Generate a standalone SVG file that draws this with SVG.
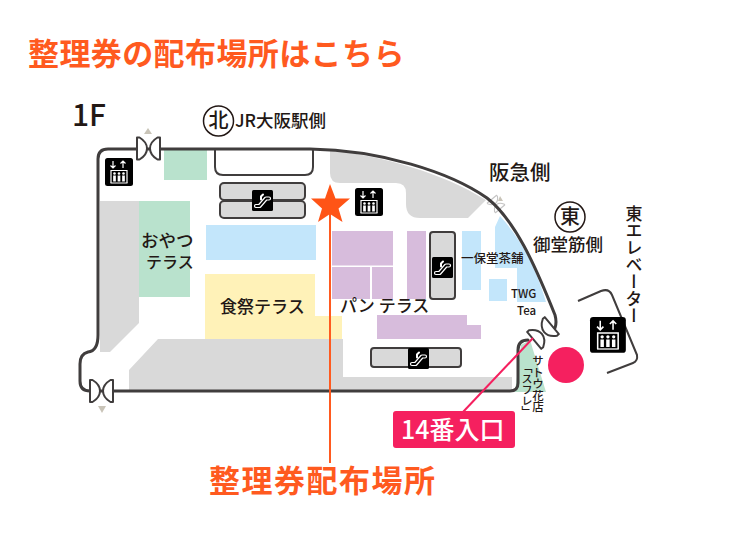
<svg xmlns="http://www.w3.org/2000/svg" width="729" height="536" viewBox="0 0 729 536">
<style>
text{font-family:"Noto Sans CJK JP","Noto Sans",sans-serif;fill:#231815;font-weight:500}
.or{fill:#ff5a1f;font-weight:700}
.wall{fill:none;stroke:#403d3d;stroke-width:3;stroke-linecap:round;stroke-linejoin:round}
.thin{fill:none;stroke:#403d3d;stroke-width:2;stroke-linejoin:round}
.door{fill:#fff;stroke:#403d3d;stroke-width:2;stroke-linejoin:round}
.grey{fill:#d9d9d9}.green{fill:#b9e2cd}.blue{fill:#c3e6fb}.yellow{fill:#fff2b8}.purple{fill:#d7bcdc}
.esc{fill:#d9d9d9;stroke:#403d3d;stroke-width:2}
.v{writing-mode:vertical-rl}
</style>
<defs>
<g id="elev">
<rect x="0" y="0" width="28" height="28" rx="2.5" fill="#000"/>
<path d="M8 3v7M5.500 7.500 8 10l2.500-2.500M18 10V3M15.500 5.500 18 3l2.500 2.500" fill="none" stroke="#fff" stroke-width="1.200"/>
<path d="M6 25V12.500H22V25" fill="none" stroke="#fff" stroke-width="1.200"/>
<path d="M5.500 25H22.500" stroke="#fff" stroke-width="1"/>
<g fill="#fff"><circle cx="9.500" cy="15.500" r="1.300"/><circle cx="14" cy="15.500" r="1.300"/><circle cx="18.500" cy="15.500" r="1.300"/></g>
<path d="M9.500 17.500v6M14 17.500v6M18.500 17.500v6" stroke="#fff" stroke-width="2.700"/>
</g>
<g id="escal">
<rect width="21" height="21" rx="1.500" fill="#000"/>
<path d="M4 16H7.500L14 8.500H17" fill="none" stroke="#fff" stroke-width="4.200" stroke-linecap="round" stroke-linejoin="round"/>
<path d="M4 16H7.500L14 8.500H17" fill="none" stroke="#000" stroke-width="1.800" stroke-linecap="round" stroke-linejoin="round"/>
<path d="M9 9.500V6.500L11 4.500" fill="none" stroke="#fff" stroke-width="2" stroke-linecap="round"/>
</g>
<g id="bow">
<path class="door" d="M-11.500-11H-9C1-5 1 5-9 11H-11.500Z"/>
<path class="door" d="M11.500-11H9C-1-5-1 5 9 11H11.500Z"/>
</g>
</defs>

<g id="title"><text class="or" x="28" y="65" font-size="31" letter-spacing=".4">整理券の配布場所はこちら</text></g>

<g id="areas">
<path class="grey" d="M100 201H139V323L110 352H100Z"/>
<rect class="green" x="139" y="201" width="51" height="96"/>
<rect class="green" x="164" y="150" width="43" height="30"/>
<rect class="blue" x="206" y="225" width="110" height="35"/>
<path class="yellow" d="M205 274H315V316H342V339H205Z"/>
<path class="grey" d="M158 339H343V377H512V390H129V370Z"/>
<path class="grey" d="M330 150C385 157 440 172 486 200L468 218H420Q406 218 406 204V193Q406 183 396 183H340Q330 183 330 173Z"/>
<rect class="purple" x="332" y="231" width="61" height="34.500"/>
<rect class="purple" x="332" y="267" width="38" height="32"/>
<rect class="purple" x="372" y="267" width="21" height="32"/>
<rect class="purple" x="407" y="231" width="19" height="68"/>
<path class="purple" d="M377 315H467V325H481V339H377Z"/>
<rect class="blue" x="462" y="231" width="19" height="59"/>
<rect class="blue" x="489" y="279" width="18" height="22"/>
<path class="blue" d="M500 216C520 238 535 265 546 302H517V268H495V227Z"/>
<path class="green" d="M521 345L530 340L546 392H515Z"/>
</g>

<g id="door-faded">
<use href="#bow" transform="translate(496 204) rotate(50) scale(.55)" opacity=".3"/>
<path d="M500 196L503 201H498Z" fill="#c9c4b8"/>
</g>

<g id="walls">
<path class="wall" d="M140 149H108Q98 149 98 159V335Q98 351 88 352Q80 354 80 364V381Q80 391 90 391H510Q518 391 518 383V350Q518 340 528 340"/>
<path class="wall" d="M140 149H310C380 150 450 172 487 198C515 220 535 265 555 315Q558 326 552 333"/>
<path class="thin" d="M215 150V167Q215 175 223 175H305Q313 175 313 167V150"/>
<path class="thin" d="M578 301L601 291Q609 288 612 295L637 355Q638 361 633 363L607 373"/>
</g>

<g id="escalators">
<rect class="esc" x="220" y="183" width="85" height="17" rx="4"/>
<rect class="esc" x="220" y="201" width="85" height="17" rx="4"/>
<rect class="esc" x="430" y="232" width="25" height="67" rx="3"/>
<rect class="esc" x="371" y="348" width="90" height="19" rx="3"/>
</g>

<g id="icons">
<use href="#elev" x="105" y="158"/>
<use href="#elev" x="355" y="188"/>
<use href="#elev" transform="translate(590 317) scale(1.280)"/>
<use href="#escal" x="252" y="190"/>
<use href="#escal" x="432" y="257"/>
<use href="#escal" x="408" y="348"/>
</g>

<g id="doors">
<use href="#bow" x="148.500" y="148.500"/>
<path d="M148 128L152 134H144Z" fill="#c9c4b8"/>
<use href="#bow" x="101.500" y="391"/>
<path d="M98 406H106L102 413Z" fill="#c9c4b8"/>
<use href="#bow" transform="translate(543 333) rotate(-40)"/>
</g>

<g id="labels">
<text x="72" y="126" font-size="30">1F</text>
<g id="north"><circle cx="218.500" cy="121" r="15" fill="#fff" stroke="#231815" stroke-width="1.500"/><text x="218.500" y="128" font-size="20" font-weight="700" text-anchor="middle">北</text></g>
<text x="235" y="127" font-size="17.500">JR大阪駅側</text>
<text x="489" y="180" font-size="20.500">阪急側</text>
<g id="east"><circle cx="570" cy="217" r="15" fill="#fff" stroke="#231815" stroke-width="1.500"/><text x="570" y="224" font-size="20" font-weight="700" text-anchor="middle">東</text></g>
<text x="533" y="251" font-size="17.500">御堂筋側</text>
<text class="v" x="634" y="205" font-size="17">東エレベーター</text>
<text x="141" y="247" font-size="17.500">おやつ</text>
<text x="146" y="268" font-size="16">テラス</text>
<text x="220" y="313" font-size="17">食祭テラス</text>
<text x="340" y="312" font-size="17">パン テラス</text>
<text x="461" y="263" font-size="12.500">一保堂茶舗</text>
<text x="511" y="298" font-size="11.500">TWG</text>
<text x="517" y="315" font-size="11.500">Tea</text>
<text class="v" x="538" y="355" font-size="11.500">サトウ花店</text>
<text class="v" x="527" y="362" font-size="11">「スフレ」</text>
</g>

<g id="connectors">
<path d="M330 205V463" stroke="#ff5a1f" stroke-width="2" fill="none"/>
<path d="M533 338L463 412" stroke="#f5205f" stroke-width="2" fill="none"/>
</g>

<g id="star"><path d="M330 184L335.500 198.500H350L338.500 208.500L342.500 222L330 214L318 222L322 208.500L311 198.500H325Z" fill="#ff5416"/></g>
<g id="dot"><circle cx="566" cy="365" r="18" fill="#f5205f"/></g>
<g id="entrance"><rect x="393" y="411" width="122" height="37" rx="3" fill="#f5205f"/><text x="401" y="439" font-size="25" style="fill:#fff">14番入口</text></g>
<g id="caption"><text class="or" x="209" y="492" font-size="31" letter-spacing="1.500">整理券配布場所</text></g>
</svg>
